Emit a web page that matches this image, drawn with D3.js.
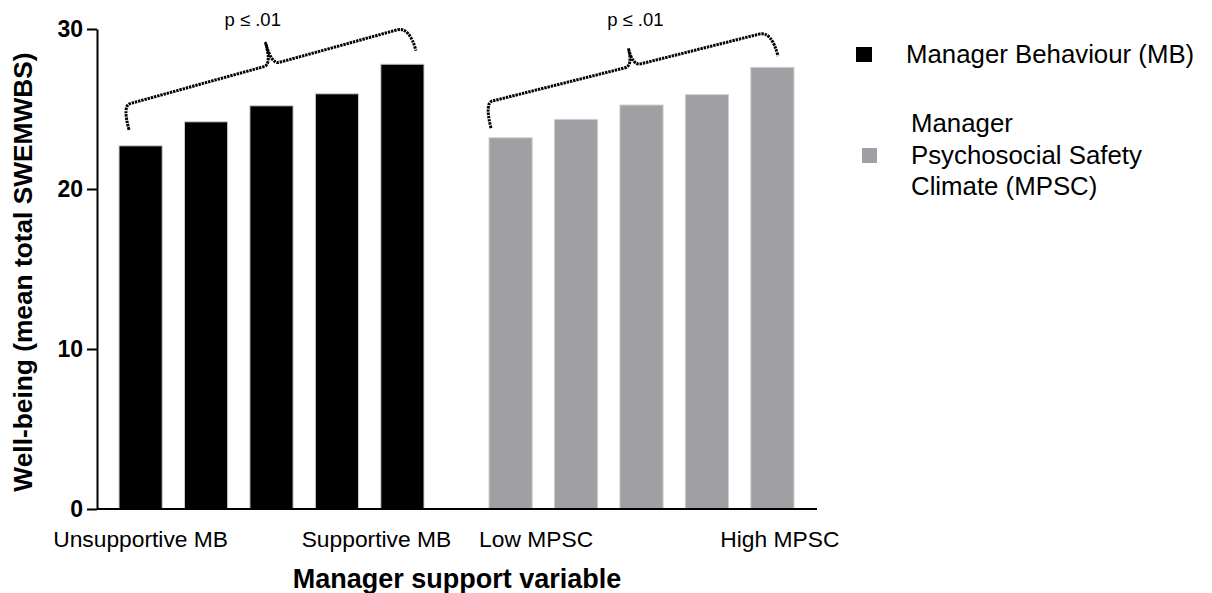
<!DOCTYPE html>
<html><head><meta charset="utf-8">
<script src="https://cdn.jsdelivr.net/npm/d3@7"></script>
<style>
html,body{margin:0;padding:0;background:#fff;}
svg{display:block;font-family:"Liberation Sans",Arial,Helvetica,sans-serif;}
</style></head>
<body>
<svg id="chart" width="1212" height="593"></svg>
<script>
// ---- data ----
const groups = ["MB", "MPSC"];
const levels = [0, 1, 2, 3, 4];
const mbValues = [22.7, 24.2, 25.2, 25.95, 27.8];
const mpscValues = [23.2, 24.35, 25.25, 25.9, 27.6];
const yTicks = [0, 10, 20, 30];
const tickLabels = ["Unsupportive MB", "Supportive MB", "Low MPSC", "High MPSC"];
const tickLabelGroups = ["MB", "MB", "MPSC", "MPSC"];
const tickLabelLevels = [0, 4, 0, 4];
const legendLabels = ["Manager Behaviour (MB)", "Manager\nPsychosocial Safety\nClimate (MPSC)"];
const sigLabels = ["p \u2264 .01", "p \u2264 .01"];
const yTitle = "Well-being (mean total SWEMWBS)";
const xTitle = "Manager support variable";

// ---- layout ----
const svg = d3.select("#chart");
const plotLeft = 97, plotRight = 816, plotTop = 29, plotBottom = 509;
const colors = {MB: "#000000", MPSC: "#a0a0a4"};
const valuesBy = {MB: mbValues, MPSC: mpscValues};

const y = d3.scaleLinear().domain([0, 30]).range([plotBottom, plotTop]);
const xOuter = d3.scaleBand().domain(groups).range([plotLeft, plotRight])
  .paddingInner(0.1757).paddingOuter(0.0595);
const xInner = d3.scaleBand().domain(levels).range([0, xOuter.bandwidth()])
  .paddingInner(0.34).paddingOuter(0);
const bx = (g, i) => xOuter(g) + xInner(i);
const bw = xInner.bandwidth();

// bars
groups.forEach(g => {
  svg.append("g").selectAll("rect").data(valuesBy[g]).join("rect")
    .attr("x", (d, i) => bx(g, i))
    .attr("y", d => y(d))
    .attr("width", bw)
    .attr("height", d => y(0) - y(d))
    .attr("fill", colors[g])
    .attr("stroke", "#cfcfcf")
    .attr("stroke-width", 1);
});

// y axis
const yAxis = svg.append("g").attr("transform", `translate(${plotLeft},0)`)
  .call(d3.axisLeft(y).tickValues(yTicks).tickSize(10).tickPadding(4).tickSizeOuter(0));
yAxis.select(".domain").attr("stroke", "#000").attr("stroke-width", 2);
yAxis.selectAll(".tick line").attr("stroke", "#000").attr("stroke-width", 2);
yAxis.selectAll(".tick text").attr("font-size", 23).attr("font-weight", "bold")
  .attr("fill", "#000").attr("font-family", "Liberation Sans, Arial, sans-serif");

// x axis line
svg.append("line").attr("x1", plotLeft).attr("x2", 817).attr("y1", y(0)).attr("y2", y(0))
  .attr("stroke", "#000").attr("stroke-width", 2);

// category labels
const labelDx = [0, -26, 25.5, 7.5];
svg.append("g").selectAll("text").data(tickLabels).join("text")
  .attr("x", (d, i) => bx(tickLabelGroups[i], tickLabelLevels[i]) + bw / 2 + labelDx[i])
  .attr("y", 547)
  .attr("text-anchor", "middle")
  .attr("font-size", 22.8)
  .attr("fill", "#000")
  .text(d => d);

// axis titles
svg.append("text")
  .attr("transform", `translate(32,272) rotate(-90)`)
  .attr("text-anchor", "middle")
  .attr("font-size", 26.3).attr("font-weight", "bold")
  .text(yTitle);
svg.append("text")
  .attr("x", 457).attr("y", 588)
  .attr("text-anchor", "middle")
  .attr("font-size", 27).attr("font-weight", "bold")
  .text(xTitle);

// braces (annotation)
function bracePath(p1, p2, d, tip, f, r) {
  const dx = p2[0] - p1[0], dy = p2[1] - p1[1];
  const L = Math.hypot(dx, dy);
  const u = [dx / L, dy / L];
  const n = [u[1], -u[0]];
  const P = (s, h) => [p1[0] + u[0] * s + n[0] * h, p1[1] + u[1] * s + n[1] * h];
  const m = f * L;
  const pts = (a) => a.map(v => v.toFixed(1)).join(",");
  return `M${pts(P(0,0))} Q${pts(P(0,d))} ${pts(P(r,d))} L${pts(P(m - r,d))} ` +
    `Q${pts(P(m,d))} ${pts(P(m,d + tip))} Q${pts(P(m,d))} ${pts(P(m + r,d))} ` +
    `L${pts(P(L - r*1.6,d))} Q${pts(P(L,d))} ${pts(P(L,0))}`;
}
const braceCfg = [
  {g: "MB", dx1: 10, dv1: 1.0, dx2: -8, dv2: 0.85, d: 25, tip: 22, f: 0.52, tdx: -13},
  {g: "MPSC", dx1: 2, dv1: 0.6, dx2: -16, dv2: 0.7, d: 26, tip: 18, f: 0.516, tdx: 7}
];
braceCfg.forEach((c, k) => {
  const vals = valuesBy[c.g];
  const p1 = [bx(c.g, 0) + c.dx1, y(vals[0] + c.dv1)];
  const p2 = [bx(c.g, 4) + bw + c.dx2, y(vals[4] + c.dv2)];
  svg.append("path").attr("d", bracePath(p1, p2, c.d, c.tip, c.f, 8))
    .attr("fill", "none").attr("stroke", "#000").attr("stroke-width", 3)
    .attr("stroke-dasharray", "2.4 0.9").attr("stroke-linejoin", "round");
  const L = Math.hypot(p2[0]-p1[0], p2[1]-p1[1]);
  const tipX = p1[0] + (p2[0]-p1[0]) * c.f + ((p2[1]-p1[1]) / L) * (c.d + c.tip);
  svg.append("text").attr("x", tipX + c.tdx).attr("y", 26)
    .attr("text-anchor", "middle").attr("font-size", 18.5).attr("fill", "#000")
    .text(sigLabels[k]);
});

// legend
const lg = svg.append("g");
lg.append("rect").attr("x", 856).attr("y", 47).attr("width", 16).attr("height", 15).attr("fill", colors.MB);
lg.append("text").attr("x", 906).attr("y", 63).attr("font-size", 25.8).text(legendLabels[0]);
lg.append("rect").attr("x", 862).attr("y", 148).attr("width", 15).attr("height", 15).attr("fill", colors.MPSC);
const lt = lg.append("text").attr("x", 911).attr("y", 132).attr("font-size", 25.8);
legendLabels[1].split("\n").forEach((line, i) => {
  lt.append("tspan").attr("x", 911).attr("dy", i === 0 ? 0 : 31.5).text(line);
});
</script>
</body></html>
